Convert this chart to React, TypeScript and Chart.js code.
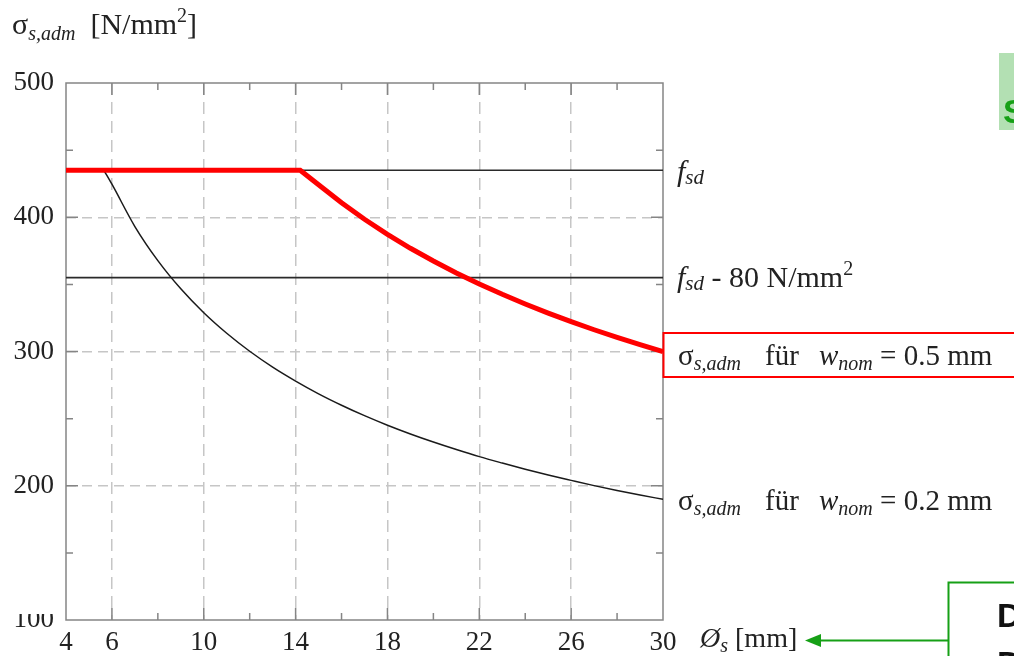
import React, { useEffect, useRef } from "react";
import { Chart, registerables } from "chart.js";

Chart.register(...registerables);

// ---- data ----
const xTickValues = [4, 6, 10, 14, 18, 22, 26, 30];
const xGridValues = [6, 10, 14, 18, 22, 26];
const xMinorValues = [8, 12, 16, 20, 24, 28];
const yGridValues = [200, 300, 400];
const yMinorValues = [150, 250, 350, 450];

const fsd = 435;
const fsdMinus80 = 355;

const redX = [4, 14.2, 15, 16, 17, 18, 19, 20, 21, 22, 23, 24, 25, 26, 27, 28, 29, 30];
const redY = [435, 435, 424.2, 410.8, 398.5, 387.3, 376.9, 367.4, 358.5, 350.3, 342.6, 335.4, 328.6, 322.2, 316.2, 310.5, 305.1, 300];

const blackX = [5.65, 6, 7, 8, 9, 10, 11, 12, 13, 14, 15, 16, 17, 18, 19, 20, 21, 22, 23, 24, 25, 26, 27, 28, 29, 30];
const blackY = [435, 424.6, 393.1, 367.7, 346.7, 328.9, 313.6, 300.2, 288.4, 278, 268.5, 260, 252.2, 245.1, 238.6, 232.6, 227, 221.7, 216.9, 212.3, 208, 204, 200.1, 196.5, 193.1, 189.9];

const xMin = 4;
const xMax = 30;
const yMin = 100;
const yMax = 500;

const toPts = (xs: number[], ys: number[]) => xs.map((x, i) => ({ x, y: ys[i] }));

const framePlugin = {
  id: "frame",
  beforeDatasetsDraw(chart: any) {
    const { ctx, chartArea: a, scales } = chart;
    const xs = scales.x;
    const ys = scales.y;
    ctx.save();
    ctx.strokeStyle = "#858585";
    ctx.lineWidth = 1.5;
    ctx.setLineDash([]);
    ctx.beginPath();
    const major = 12;
    const minor = 7;
    for (const v of xGridValues) {
      const px = xs.getPixelForValue(v);
      ctx.moveTo(px, a.bottom);
      ctx.lineTo(px, a.bottom - major);
      ctx.moveTo(px, a.top);
      ctx.lineTo(px, a.top + major);
    }
    for (const v of xMinorValues) {
      const px = xs.getPixelForValue(v);
      ctx.moveTo(px, a.bottom);
      ctx.lineTo(px, a.bottom - minor);
      ctx.moveTo(px, a.top);
      ctx.lineTo(px, a.top + minor);
    }
    for (const v of yGridValues) {
      const py = ys.getPixelForValue(v);
      ctx.moveTo(a.left, py);
      ctx.lineTo(a.left + major, py);
      ctx.moveTo(a.right, py);
      ctx.lineTo(a.right - major, py);
    }
    for (const v of yMinorValues) {
      const py = ys.getPixelForValue(v);
      ctx.moveTo(a.left, py);
      ctx.lineTo(a.left + minor, py);
      ctx.moveTo(a.right, py);
      ctx.lineTo(a.right - minor, py);
    }
    ctx.stroke();
    ctx.strokeRect(a.left, a.top, a.right - a.left, a.bottom - a.top);
    ctx.restore();
  },
};

const serif = "'Liberation Serif', 'Times New Roman', serif";
const sans = "'Liberation Sans', Arial, sans-serif";

export default function App() {
  const ref = useRef<HTMLCanvasElement | null>(null);

  useEffect(() => {
    if (!ref.current) return;
    const chart = new Chart(ref.current, {
      type: "scatter",
      data: {
        datasets: [
          {
            label: "σs,adm für wnom = 0.5 mm",
            data: toPts(redX, redY),
            showLine: true,
            borderColor: "#ff0000",
            borderWidth: 5,
            pointRadius: 0,
            tension: 0,
            borderCapStyle: "butt",
            borderJoinStyle: "miter",
          },
          {
            label: "σs,adm für wnom = 0.2 mm",
            data: toPts(blackX, blackY),
            showLine: true,
            borderColor: "#1a1a1a",
            borderWidth: 1.5,
            pointRadius: 0,
            cubicInterpolationMode: "monotone",
          },
          {
            label: "fsd",
            data: [
              { x: xMin, y: fsd },
              { x: xMax, y: fsd },
            ],
            showLine: true,
            borderColor: "#2a2a2a",
            borderWidth: 1.6,
            pointRadius: 0,
          },
          {
            label: "fsd - 80",
            data: [
              { x: xMin, y: fsdMinus80 },
              { x: xMax, y: fsdMinus80 },
            ],
            showLine: true,
            borderColor: "#2a2a2a",
            borderWidth: 1.6,
            pointRadius: 0,
          },
        ],
      },
      options: {
        responsive: false,
        animation: false,
        devicePixelRatio: 1,
        layout: { padding: { top: 83, right: 351, left: 0, bottom: 0 } },
        plugins: { legend: { display: false }, tooltip: { enabled: false } },
        scales: {
          x: {
            type: "linear",
            min: xMin,
            max: xMax,
            afterBuildTicks: (s: any) => {
              s.ticks = xTickValues.map((v) => ({ value: v }));
            },
            afterFit: (s: any) => {
              s.height = 36;
            },
            grid: {
              color: (c: any) => (c.tick && xGridValues.includes(c.tick.value) ? "#c6c6c6" : "rgba(0,0,0,0)"),
              lineWidth: 1.5,
              drawTicks: false,
            },
            border: { display: false, dash: [12, 7] },
            ticks: {
              font: { family: serif, size: 27 },
              color: "#222",
              padding: 7,
              maxRotation: 0,
              autoSkip: false,
            },
          },
          y: {
            type: "linear",
            min: yMin,
            max: yMax,
            ticks: {
              stepSize: 100,
              font: { family: serif, size: 27 },
              color: "#222",
              padding: 12,
            },
            afterFit: (s: any) => {
              s.width = 66;
            },
            grid: {
              color: (c: any) => (c.tick && yGridValues.includes(c.tick.value) ? "#c6c6c6" : "rgba(0,0,0,0)"),
              lineWidth: 1.5,
              drawTicks: false,
            },
            border: { display: false, dash: [10, 6] },
          },
        },
      },
      plugins: [framePlugin],
    } as any);
    return () => chart.destroy();
  }, []);

  const green = "#16a016";
  const pre = { whiteSpace: "pre" as const };

  return (
    <div style={{ position: "absolute", left: 0, top: 0, width: 1014, height: 656, background: "#fff", overflow: "hidden" }}>
      <canvas ref={ref} width={1014} height={656} style={{ position: "absolute", left: 0, top: 0, width: 1014, height: 656 }} />
      <svg width={1014} height={656} style={{ position: "absolute", left: 0, top: 0, pointerEvents: "none" }}>
        {/* cover top of the clipped "100" label */}
        <rect x={6} y={598} width={58} height={16} fill="#fff" />
        {/* y-axis title */}
        <text x={12} y={34} fontFamily={serif} fontSize={30} fill="#222" style={pre}>
          σ<tspan fontStyle="italic" fontSize={20} dy={6}>s,adm</tspan>
          <tspan dy={-6}>{"  [N/mm"}</tspan>
          <tspan fontSize={20} dy={-12}>2</tspan>
          <tspan dy={12}>]</tspan>
        </text>
        {/* f_sd */}
        <text x={677} y={181} fontFamily={serif} fontSize={30} fill="#222" style={pre}>
          <tspan fontStyle="italic">f</tspan>
          <tspan fontStyle="italic" fontSize={21} dy={3}>sd</tspan>
        </text>
        {/* f_sd - 80 N/mm2 */}
        <text x={677} y={287} fontFamily={serif} fontSize={30} fill="#222" style={pre}>
          <tspan fontStyle="italic">f</tspan>
          <tspan fontStyle="italic" fontSize={21} dy={3}>sd</tspan>
          <tspan dy={-3}>{" - 80 N/mm"}</tspan>
          <tspan fontSize={20} dy={-12}>2</tspan>
        </text>
        {/* red boxed label */}
        <rect x={663.5} y={333} width={400} height={44} fill="none" stroke="#ff0000" strokeWidth={2} />
        <text y={365} fontFamily={serif} fontSize={29} fill="#222" style={pre}>
          <tspan x={678}>σ</tspan>
          <tspan fontStyle="italic" fontSize={20} dy={5}>s,adm</tspan>
          <tspan x={765} dy={-5}>für</tspan>
          <tspan x={819} fontStyle="italic">w</tspan>
          <tspan fontStyle="italic" fontSize={20} dy={5}>nom</tspan>
          <tspan dy={-5}>{" = 0.5 mm"}</tspan>
        </text>
        {/* lower label */}
        <text y={510} fontFamily={serif} fontSize={29} fill="#222" style={pre}>
          <tspan x={678}>σ</tspan>
          <tspan fontStyle="italic" fontSize={20} dy={5}>s,adm</tspan>
          <tspan x={765} dy={-5}>für</tspan>
          <tspan x={819} fontStyle="italic">w</tspan>
          <tspan fontStyle="italic" fontSize={20} dy={5}>nom</tspan>
          <tspan dy={-5}>{" = 0.2 mm"}</tspan>
        </text>
        {/* x-axis title */}
        <text x={700} y={647} fontFamily={serif} fontSize={28} fill="#222" style={pre}>
          <tspan fontStyle="italic">Ø</tspan>
          <tspan fontStyle="italic" fontSize={20} dy={5}>s</tspan>
          <tspan dy={-5}>{" [mm]"}</tspan>
        </text>
        {/* green box top right */}
        <rect x={999} y={53} width={20} height={77} fill="#b3e0b3" />
        <text x={1003} y={123} fontFamily={sans} fontWeight="bold" fontSize={34} fill={green}>S</text>
        {/* green arrow */}
        <line x1={948} y1={640.5} x2={816} y2={640.5} stroke={green} strokeWidth={2} />
        <polygon points="805,640.5 821,634 821,647" fill={green} />
        {/* bottom-right box */}
        <rect x={948.5} y={582.5} width={100} height={100} fill="#fff" stroke={green} strokeWidth={2} />
        <text x={997} y={627} fontFamily={sans} fontWeight="bold" fontSize={34} fill="#111">D</text>
        <text x={997} y={675} fontFamily={sans} fontWeight="bold" fontSize={34} fill="#111">D</text>
      </svg>
    </div>
  );
}
